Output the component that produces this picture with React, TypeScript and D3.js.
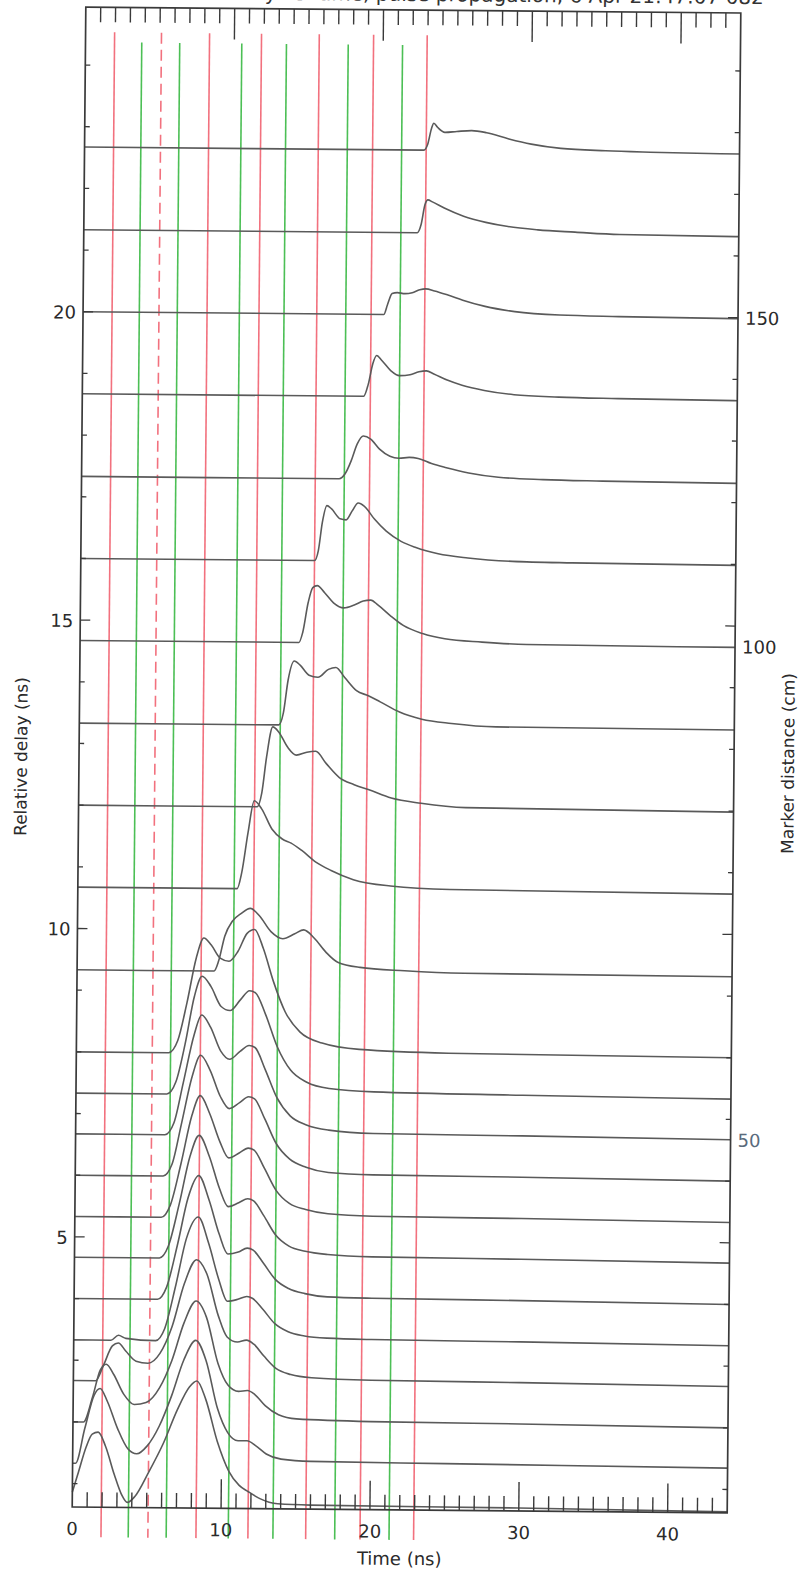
import React from 'react';
import * as d3 from 'd3';

const WIDTH = 808;
const HEIGHT = 1572;

// ---------- axis data ----------
const timeDomain: [number, number] = [0, 44];
const delayDomain: [number, number] = [0.62, 24.94];
const timeTickLabels = [0, 10, 20, 30, 40];
const delayTickLabels = [5, 10, 15, 20];
const markerLabels = ['150', '100', '50'];
const markerDelays = [20, 14.67, 6.67];
const titleText = 'Relative delay vs. time, pulse propagation, 6 Apr 21:47:07 082';

// ---------- vertical marker lines (ns) ----------
const redLineTimes = [1.95, 8.33, 11.82, 15.7, 19.35, 22.95];
const redDashedTimes = [5.1];
const greenLineTimes = [3.78, 6.33, 10.5, 13.5, 17.65, 21.3];

// ---------- traces: baseline delay (ns) and [time ns, amplitude] points ----------
const traceDelays = [22.67, 21.33, 20, 18.67, 17.33, 16, 14.67, 13.33, 12, 10.67, 9.33, 8,
  7.33, 6.67, 6, 5.33, 4.67, 4, 3.33, 2.67, 2, 1.33, 0.67];

const trace01 = [[0,0],[22.8,0],[23.05,6],[23.3,22],[23.45,27],[23.7,23],[24.2,18],[25,19],[26,20],[27,18],[28.5,12],[30,7],[32,3],[35,1],[38,0],[44,-1]];
const trace02 = [[0,0],[22.4,0],[22.65,8],[22.9,28],[23.1,33],[23.4,31],[24.2,25],[25.5,17],[27,11],[28.5,7],[30.5,4],[33,2],[36,0],[44,-1]];
const trace03 = [[0,0],[20.2,0],[20.45,10],[20.75,21],[21.1,22],[21.6,21],[22.1,22],[22.6,25],[23,26],[23.6,24],[24.5,20],[25.5,15],[27,9],[29,4],[32,1],[36,0],[44,-1]];
const trace04 = [[0,0],[18.9,0],[19.2,12],[19.5,33],[19.75,41],[20.1,36],[20.7,26],[21.3,21],[22,22],[22.6,25],[23.1,26],[23.6,23],[24.5,17],[25.5,12],[27,7],[29,3],[32,1],[36,0],[44,-1]];
const trace05 = [[0,0],[17.3,0],[17.7,5],[18.1,18],[18.5,35],[18.9,43],[19.4,40],[20,30],[20.7,23],[21.3,21],[22,22],[22.6,21],[23.5,16],[24.5,12],[26,7],[28,3],[31,1],[35,0],[44,-1]];
const trace06 = [[0,0],[15.7,0],[15.95,10],[16.2,38],[16.5,55],[16.8,52],[17.4,42],[17.8,41],[18.2,50],[18.6,58],[19,55],[19.7,42],[20.5,30],[21.5,20],[22.5,14],[24,8],[26,4],[29,1],[33,0],[44,-1]];
const trace07 = [[0,0],[14.7,0],[14.95,10],[15.3,40],[15.6,55],[15.9,57],[16.4,50],[17,40],[17.7,35],[18.4,38],[19,42],[19.5,43],[20,38],[20.8,28],[21.7,18],[23,10],[24.5,5],[27,2],[30,0],[44,-1]];
const trace08 = [[0,0],[13.4,0],[13.7,12],[14,45],[14.4,64],[14.8,60],[15.4,50],[16,48],[16.7,56],[17.2,58],[17.8,48],[18.6,35],[19.4,30],[20.2,24],[21.5,14],[23,7],[25,3],[28,0],[44,-1]];
const trace09 = [[0,0],[12,0],[12.3,14],[12.6,50],[13,80],[13.4,75],[14,60],[14.6,52],[15.3,55],[15.9,56],[16.6,44],[17.5,30],[18.5,23],[19.5,18],[21,10],[23,5],[26,1],[44,-1]];
const trace10 = [[0,0],[10.7,0],[11,16],[11.4,56],[11.8,88],[12.3,80],[13,60],[13.7,50],[14.3,46],[15,39],[16,27],[17,19],[18.5,10],[21,4],[25,1],[44,-1]];
const trace11 = [[0,0],[9.2,0],[9.5,10],[9.9,35],[10.4,50],[11,58],[11.6,63],[12.2,56],[13,40],[13.8,33],[14.6,38],[15.2,42],[15.9,34],[16.7,20],[17.5,10],[19,5],[22,2],[26,0],[44,-1]];
const trace12 = [[0,0],[6.2,0],[6.8,12],[7.4,50],[8,95],[8.5,115],[9,108],[9.6,95],[10.2,92],[10.8,102],[11.4,120],[11.9,124],[12.5,105],[13.2,72],[14,42],[15,22],[16.5,11],[19,5],[25,2],[44,0]];
const trace13 = [[0,0],[6.1,0],[6.7,12],[7.3,50],[7.9,98],[8.4,118],[9,108],[9.7,88],[10.3,84],[11,95],[11.6,104],[12,102],[12.7,80],[13.5,48],[14.4,25],[15.5,13],[17,7],[20,4],[30,2],[44,0]];
const trace14 = [[0,0],[6,0],[6.6,12],[7.2,52],[7.9,100],[8.4,120],[9,108],[9.7,84],[10.3,76],[11,84],[11.6,90],[12,88],[12.7,66],[13.5,38],[14.4,20],[15.5,11],[17,6],[20,3],[30,2],[44,0]];
const trace15 = [[0,0],[5.9,0],[6.5,12],[7.1,52],[7.8,100],[8.35,121],[9,106],[9.7,80],[10.3,68],[11,74],[11.6,80],[12,78],[12.7,58],[13.5,33],[14.4,18],[15.5,10],[17,5],[20,3],[30,2],[44,0]];
const trace16 = [[0,0],[5.8,0],[6.4,12],[7.1,54],[7.8,102],[8.35,122],[9,104],[9.7,76],[10.3,60],[11,65],[11.6,70],[12,68],[12.7,50],[13.5,28],[14.4,15],[15.5,9],[17,5],[20,3],[30,2],[44,0]];
const trace17 = [[0,0],[5.7,0],[6.3,12],[7,54],[7.7,102],[8.3,123],[9,102],[9.7,70],[10.3,52],[11,56],[11.6,60],[12,58],[12.7,43],[13.5,24],[14.4,13],[15.5,8],[17,5],[20,3],[30,2],[44,0]];
const trace18 = [[0,0],[5.6,0],[6.2,12],[6.9,54],[7.6,102],[8.3,124],[9,100],[9.7,66],[10.3,46],[11,48],[11.6,52],[12,50],[12.7,37],[13.5,21],[14.4,12],[15.5,7],[17,4],[20,3],[30,2],[44,0]];
const trace19 = [[0,0],[2.5,0],[3,5],[3.5,2],[5.5,0],[6.1,12],[6.8,54],[7.5,102],[8.3,124],[9,98],[9.7,62],[10.3,40],[11,42],[11.6,45],[12,43],[12.7,32],[13.5,18],[14.4,10],[15.5,6],[17,4],[20,3],[30,2],[44,0]];
const trace20 = [[0,0],[1.5,0],[2,15],[2.6,35],[3,38],[3.5,30],[4.2,20],[5,18],[5.8,28],[6.6,55],[7.4,98],[8.2,122],[8.9,108],[9.7,66],[10.3,45],[11,40],[11.6,42],[12.1,38],[12.8,26],[13.6,14],[14.6,8],[16,5],[20,3],[30,2],[44,0]];
const trace21 = [[0,0],[0.7,0],[1.3,25],[1.8,52],[2.2,58],[2.7,48],[3.4,28],[4.1,18],[4.9,20],[5.8,35],[6.6,62],[7.4,100],[8.2,122],[8.9,106],[9.7,60],[10.4,38],[11.1,32],[11.7,33],[12.2,29],[12.9,18],[13.8,9],[15,5],[20,3],[30,2],[44,0]];
const trace22 = [[0,0],[0.2,0],[0.8,35],[1.4,68],[1.8,75],[2.3,62],[3,35],[3.7,15],[4.3,10],[5,18],[5.8,38],[6.6,68],[7.4,104],[8.2,124],[8.9,104],[9.7,56],[10.4,32],[11.1,24],[11.7,24],[12.3,19],[13,11],[14,6],[16,4],[25,3],[44,1]];
const trace23 = [[0,12],[0.4,32],[0.9,57],[1.3,70],[1.7,72],[2.2,58],[2.8,30],[3.3,10],[3.7,2],[4.2,8],[5.1,32],[6.1,62],[7,95],[7.8,118],[8.3,124],[8.9,106],[9.7,64],[10.5,34],[11.2,20],[11.8,14],[12.6,7],[13.8,2],[16,1],[30,0],[44,-2]];

const traces = [trace01, trace02, trace03, trace04, trace05, trace06, trace07, trace08, trace09, trace10,
  trace11, trace12, trace13, trace14, trace15, trace16, trace17, trace18, trace19, trace20, trace21, trace22, trace23];

// ---------- layout ----------
const M = { left: 79, right: 734, top: 10, bottom: 1510 };
const ROT = 0.52;
const ROT_CX = 406;
const ROT_CY = 760;
const FONT = '"DejaVu Sans", "Liberation Sans", Arial, sans-serif';

export default function App() {
  const x = d3.scaleLinear().domain(timeDomain).range([M.left, M.right]);
  const y = d3.scaleLinear().domain(delayDomain).range([M.bottom, M.top]);
  const amp = d3.scaleLinear().domain([0, 100]).range([0, 100]);

  const minorTimes = d3.range(1, 44);
  const delayMinor = d3.range(1, 25);

  const redTop = y.invert(35);
  const greenTop = y.invert(45);
  const lineBottom = y.invert(1540);

  const axisColor = '#3a3a3a';
  const traceColor = '#5a5a5a';
  const textColor = '#2a2a2a';

  return (
    <svg width={WIDTH} height={HEIGHT} style={{ position: 'absolute', left: 0, top: 0, background: '#fff' }}
      fontFamily={FONT}>
      <rect x={0} y={0} width={WIDTH} height={HEIGHT} fill="#fff" />
      <g transform={`rotate(${ROT}, ${ROT_CX}, ${ROT_CY})`}>
        <text x={128} y={1} fontSize={20} fill="#333">{titleText}</text>

        {/* vertical marker lines */}
        {redLineTimes.map((t, i) => (
          <line key={'r' + i} x1={x(t)} x2={x(t)} y1={y(redTop)} y2={y(lineBottom)} stroke="#f2717e" strokeWidth={1.6} />
        ))}
        {redDashedTimes.map((t, i) => (
          <line key={'rd' + i} x1={x(t)} x2={x(t)} y1={y(redTop)} y2={y(lineBottom)} stroke="#f2717e" strokeWidth={1.6} strokeDasharray="11 6" />
        ))}
        {greenLineTimes.map((t, i) => (
          <line key={'g' + i} x1={x(t)} x2={x(t)} y1={y(greenTop)} y2={y(lineBottom)} stroke="#4cbf55" strokeWidth={1.6} />
        ))}

        {/* traces */}
        {traces.map((tr, i) => {
          const base = traceDelays[i];
          const gen = d3.line<number[]>()
            .x(p => x(p[0]))
            .y(p => y(base) - amp(p[1]))
            .curve(d3.curveMonotoneX);
          return <path key={'t' + i} d={gen(tr) || ''} fill="none" stroke={traceColor} strokeWidth={1.6} />;
        })}

        {/* frame */}
        <rect x={M.left} y={M.top} width={M.right - M.left} height={M.bottom - M.top} fill="none" stroke={axisColor} strokeWidth={1.7} />

        {/* top & bottom ticks */}
        {minorTimes.map(t => {
          const major = t % 10 === 0;
          return (
            <g key={'tt' + t}>
              <line x1={x(t)} x2={x(t)} y1={M.top} y2={M.top + (major ? 31 : 15)} stroke={axisColor} strokeWidth={1.4} />
              <line x1={x(t)} x2={x(t)} y1={M.bottom} y2={M.bottom - (major ? 29 : 15)} stroke={axisColor} strokeWidth={1.4} />
            </g>
          );
        })}

        {/* left & right ticks */}
        {delayMinor.map(d => {
          const major = d % 5 === 0;
          const len = major ? 10 : 5;
          return (
            <g key={'dt' + d}>
              <line x1={M.left} x2={M.left + len} y1={y(d)} y2={y(d)} stroke={axisColor} strokeWidth={1.3} />
              <line x1={M.right} x2={M.right - len} y1={y(d)} y2={y(d)} stroke={axisColor} strokeWidth={1.3} />
            </g>
          );
        })}

        {/* tick labels */}
        {timeTickLabels.map(t => (
          <text key={'xl' + t} x={x(t)} y={M.bottom + 28} fontSize={18} textAnchor="middle" fill={textColor}>{t}</text>
        ))}
        {delayTickLabels.map(d => (
          <text key={'yl' + d} x={M.left - 7} y={y(d) + 7} fontSize={18} textAnchor="end" fill={textColor}>{d}</text>
        ))}
        {markerLabels.map((m, i) => (
          <text key={'ml' + i} x={M.right + 7} y={y(markerDelays[i]) + 7} fontSize={18} textAnchor="start"
            fill={i === 2 ? '#5a6b7c' : textColor}>{m}</text>
        ))}

        {/* axis titles */}
        <text x={(M.left + M.right) / 2} y={M.bottom + 55} fontSize={18} textAnchor="middle" fill={textColor}>Time (ns)</text>
        <text transform={`translate(${M.left - 52}, ${(M.top + M.bottom) / 2}) rotate(-90)`} fontSize={17} textAnchor="middle" fill={textColor}>Relative delay (ns)</text>
        <text transform={`translate(${M.right + 60}, ${(M.top + M.bottom) / 2}) rotate(-90)`} fontSize={17} textAnchor="middle" fill={textColor}>Marker distance (cm)</text>
      </g>
    </svg>
  );
}
